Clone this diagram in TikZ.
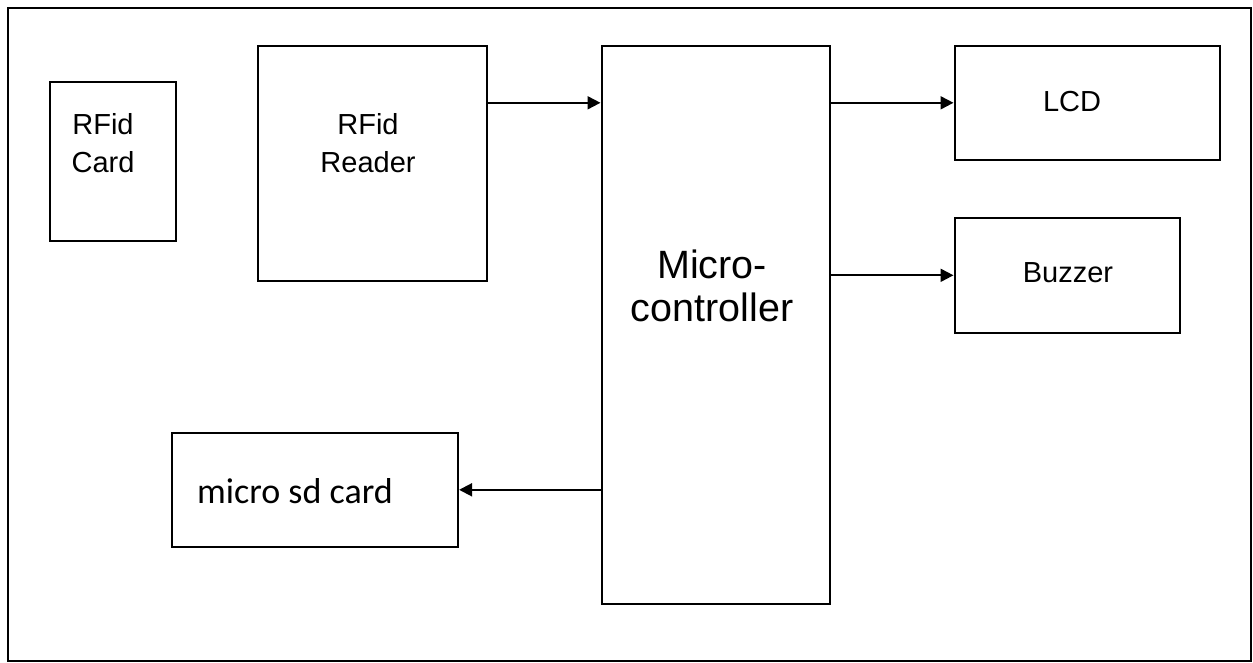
\documentclass[tikz,border=0pt]{standalone}
\usepackage{fontspec}
\setmainfont{Liberation Sans}
\newfontfamily\calibfont{Carlito}
\usetikzlibrary{arrows.meta}
\begin{document}
\begin{tikzpicture}[x=1pt,y=-1pt,
  box/.style={draw=black, line width=2.6pt, inner sep=0pt, anchor=north west},
  lbl/.style={align=center, inner sep=0pt, font=\fontsize{29}{38}\selectfont},
  biglbl/.style={align=center, inner sep=0pt, font=\fontsize{39.5}{43}\selectfont},
  conn/.style={line width=2pt, -{Triangle[length=13pt,width=13pt]}}]
\useasboundingbox (0,0) rectangle (1253,662);
\node[draw=black, line width=2pt, inner sep=0pt, anchor=north west, minimum width=1243pt, minimum height=653pt] (frame) at (7,7) {};
% boxes
\node[box, minimum width=126pt, minimum height=159pt] (card) at (48.5,80.5) {};
\node[box, minimum width=229pt, minimum height=235pt] (reader) at (256.5,44.5) {};
\node[box, minimum width=228pt, minimum height=558pt] (mcu) at (600.5,44.5) {};
\node[box, minimum width=265pt, minimum height=114pt] (lcd) at (953.5,44.5) {};
\node[box, minimum width=225pt, minimum height=115pt] (buzzer) at (953.5,216.5) {};
\node[box, minimum width=286pt, minimum height=114pt] (sd) at (170.5,431.5) {};
% labels
\node[lbl] (cardtxt) at (103,143) {RFid\\Card};
\node[lbl] (readertxt) at (368,143) {RFid\\Reader};
\node[biglbl] (mcutxt) at (712,286) {Micro-\\controller};
\node[lbl] (lcdtxt) at (1072,102) {LCD};
\node[lbl] (buzzertxt) at (1068,273) {Buzzer};
\node[inner sep=0pt, anchor=base west, font=\calibfont\fontsize{36}{40}\selectfont] (sdtxt) at (197,503) {micro sd card};
% connectors
\draw[conn] (reader.east |- lcd.west) -- (mcu.west |- lcd.west);
\draw[conn] (mcu.east |- lcd.west) -- (lcd.west);
\draw[conn] (mcu.east |- buzzer.west) -- (buzzer.west);
\draw[conn] (mcu.west |- sd.east) -- (sd.east);
\end{tikzpicture}
\end{document}
